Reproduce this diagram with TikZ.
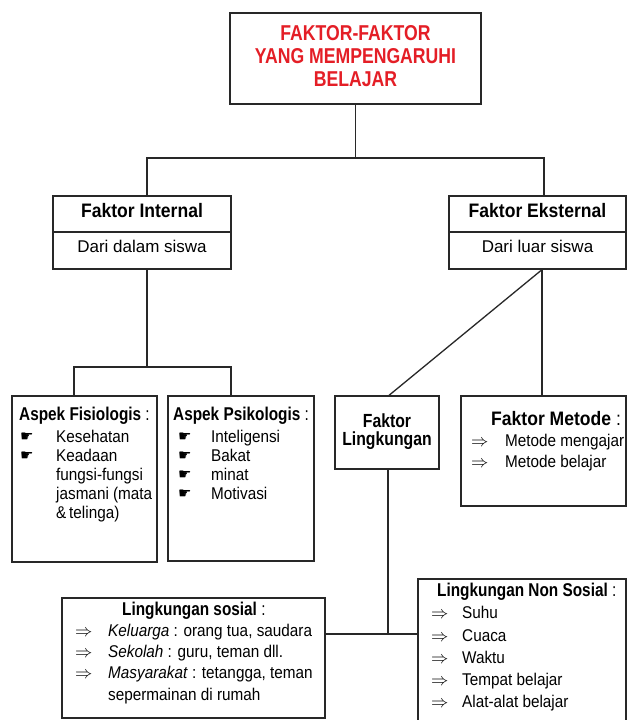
\documentclass[tikz,border=0pt]{standalone}
\usepackage{fontspec}
\setmainfont{Liberation Sans}[FakeStretch=0.9]
\newfontfamily\hdfont{Liberation Sans}[FakeStretch=0.9]
\newfontfamily\lhdfont{Liberation Sans}[FakeStretch=0.83]
\newfontfamily\plainfont{Liberation Sans}
\newfontfamily\titlefont{Liberation Sans}[FakeStretch=0.82]
\newfontfamily\symfont{DejaVu Sans}
\definecolor{titlered}{RGB}{228,30,38}
\definecolor{lncol}{RGB}{40,40,40}
\begin{document}
\begin{tikzpicture}[x=1pt,y=-1pt,
  box/.style={draw=lncol,line width=1.3pt,fill=white,inner sep=0pt},
  ln/.style={draw=lncol,line width=1.3pt},
  txt/.style={anchor=base west,inner sep=0pt,font=\fontsize{17}{20}\selectfont},
  ctxt/.style={anchor=base,inner sep=0pt,font=\plainfont\fontsize{17}{20}\selectfont},
  hd/.style={anchor=base,inner sep=0pt,font=\hdfont\bfseries\fontsize{19.5}{22}\selectfont},
  lhd/.style={anchor=base,inner sep=0pt,font=\lhdfont\bfseries\fontsize{19.5}{22}\selectfont},
  hdw/.style={anchor=base west,inner sep=0pt,font=\lhdfont\fontsize{18.5}{20}\selectfont},
  ttl/.style={anchor=base,inner sep=0pt,text=titlered,font=\titlefont\bfseries\fontsize{21.5}{23}\selectfont},
  hand/.style={anchor=base west,inner sep=0pt,font=\symfont\fontsize{15}{16}\selectfont},
  arr/.style={anchor=base west,inner sep=0pt,font=\fontsize{16}{17}\selectfont}]
\useasboundingbox (0,0) rectangle (627,720);
\fill[white] (0,0) rectangle (627,720);

% ---------- boxes ----------
\node[box,minimum width=251pt,minimum height=91pt] (top) at (355.5,58.5) {};
\node[box,minimum width=178pt,minimum height=73pt] (int) at (142,232.5) {};
\node[box,minimum width=177pt,minimum height=73pt] (eks) at (537.5,232.5) {};
\node[box,minimum width=145pt,minimum height=166pt] (fis) at (84.5,479) {};
\node[box,minimum width=146pt,minimum height=165pt] (psi) at (241,478.5) {};
\node[box,minimum width=104pt,minimum height=73pt] (lkg) at (387,432.5) {};
\node[box,minimum width=165pt,minimum height=110pt] (met) at (543.5,451) {};
\node[box,minimum width=263pt,minimum height=120pt] (sos) at (193.5,658) {};
\node[box,minimum width=208pt,minimum height=151pt] (non) at (522,654.5) {};

% dividers
\draw[ln] (int.west |- 0,232) coordinate (intd1) -- (int.east |- 0,232) coordinate (intd2);
\draw[ln] (eks.west |- 0,232) coordinate (eksd1) -- (eks.east |- 0,232) coordinate (eksd2);

% ---------- connectors ----------
\coordinate (j1) at (355.5,158);
\draw[ln] (top.south) -- (j1);
\draw[ln] ([xshift=5pt]int.north) |- (j1) -| ([xshift=6.5pt]eks.north);

\coordinate (j2) at (147,367);
\draw[ln] ([xshift=5pt]int.south) -- (j2);
\draw[ln] ([xshift=-10.5pt]fis.north) |- (j2) -| ([xshift=-10pt]psi.north);

\draw[ln] ([xshift=4.5pt]eks.south) -- ([xshift=2pt]lkg.north);
\draw[ln] ([xshift=4.5pt]eks.south) -- ([xshift=-1.5pt]met.north);

\coordinate (j3) at (388,634);
\draw[ln] ([xshift=1pt]lkg.south) -- (j3);
\draw[ln] (sos.east |- j3) -- (non.west |- j3);

% ---------- texts ----------
\node[ttl] (t1) at (355.5,40) {FAKTOR-FAKTOR};
\node[ttl] (t2) at (355.5,63) {YANG MEMPENGARUHI};
\node[ttl] (t3) at (355.5,86) {BELAJAR};

\node[hd] (ih) at (142,217) {Faktor Internal};
\node[ctxt] (ib) at (142,252) {Dari dalam siswa};
\node[hd] (eh) at (537.5,217) {Faktor Eksternal};
\node[ctxt] (eb) at (537.5,252) {Dari luar siswa};

% Aspek Fisiologis
\node[hdw] (fh) at (19,420) {{\bfseries Aspek Fisiologis} :};
\node[hand] (fb1) at (20,441) {☛};
\node[hand] (fb2) at (20,460) {☛};
\node[txt] (f1) at (56,442) {Kesehatan};
\node[txt] (f2) at (56,461) {Keadaan};
\node[txt] (f3) at (56,480) {fungsi-fungsi};
\node[txt] (f4) at (56,499) {jasmani (mata};
\node[txt] (f5) at (56,518) {\&\,telinga)};

% Aspek Psikologis
\node[hdw] (ph) at (173,420) {{\bfseries Aspek Psikologis} :};
\node[hand] (pb1) at (178,441) {☛};
\node[hand] (pb2) at (178,460) {☛};
\node[hand] (pb3) at (178,479) {☛};
\node[hand] (pb4) at (178,498) {☛};
\node[txt] (p1) at (211,442) {Inteligensi};
\node[txt] (p2) at (211,461) {Bakat};
\node[txt] (p3) at (211,480) {minat};
\node[txt] (p4) at (211,499) {Motivasi};

% Faktor Lingkungan
\node[lhd,font=\lhdfont\bfseries\fontsize{19}{22}\selectfont] (lh1) at (387,427) {Faktor};
\node[lhd,font=\lhdfont\bfseries\fontsize{19}{22}\selectfont] (lh2) at (387,445) {Lingkungan};

% Faktor Metode
\node[hdw,font=\hdfont\fontsize{19.5}{22}\selectfont] (mh) at (491,425) {{\bfseries Faktor Metode} :};
\node[arr] (ma1) at (471,446) {$\Rightarrow$};
\node[arr] (ma2) at (471,467) {$\Rightarrow$};
\node[txt] (m1) at (505,446) {Metode mengajar};
\node[txt] (m2) at (505,467) {Metode belajar};

% Lingkungan sosial
\node[hdw] (sh) at (122,615) {{\bfseries Lingkungan sosial} :};
\node[arr] (sa1) at (75,636) {$\Rightarrow$};
\node[arr] (sa2) at (75,657) {$\Rightarrow$};
\node[arr] (sa3) at (75,678) {$\Rightarrow$};
\node[txt] (s1) at (108,636) {\textit{Keluarga} : orang tua, saudara};
\node[txt] (s2) at (108,657) {\textit{Sekolah} : guru, teman dll.};
\node[txt] (s3) at (108,678) {\textit{Masyarakat} : tetangga, teman};
\node[txt] (s4) at (108,700) {sepermainan di rumah};

% Lingkungan Non Sosial
\node[hdw] (nh) at (437,596) {{\bfseries Lingkungan Non Sosial} :};
\node[arr] (na1) at (431,618) {$\Rightarrow$};
\node[arr] (na2) at (431,641) {$\Rightarrow$};
\node[arr] (na3) at (431,663) {$\Rightarrow$};
\node[arr] (na4) at (431,685) {$\Rightarrow$};
\node[arr] (na5) at (431,707) {$\Rightarrow$};
\node[txt] (n1) at (462,618) {Suhu};
\node[txt] (n2) at (462,641) {Cuaca};
\node[txt] (n3) at (462,663) {Waktu};
\node[txt] (n4) at (462,685) {Tempat belajar};
\node[txt] (n5) at (462,707) {Alat-alat belajar};
\end{tikzpicture}
\end{document}
